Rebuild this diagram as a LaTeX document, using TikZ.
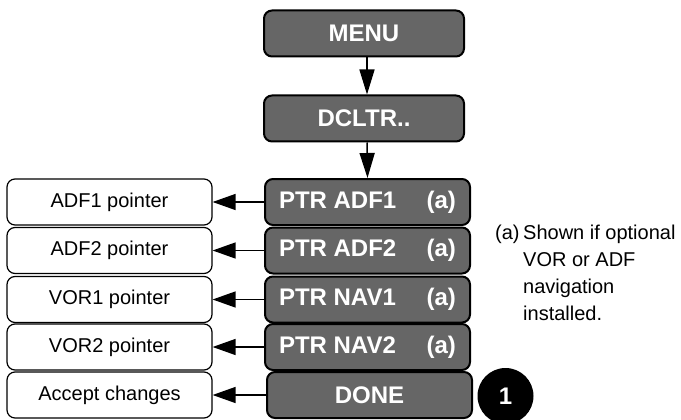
\documentclass[tikz,border=0pt]{standalone}
\usepackage{fontspec}
\setmainfont{Liberation Sans}
\usetikzlibrary{arrows.meta}
\definecolor{boxgray}{RGB}{102,102,102}
\tikzset{
  darkbox/.style={draw=black, line width=2pt, fill=boxgray, rounded corners=8pt,
    minimum height=46pt, inner sep=0pt, text=white,
    font=\fontsize{24}{28}\selectfont\bfseries},
  lightbox/.style={draw=black, line width=1.2pt, fill=white, rounded corners=8pt,
    minimum width=205pt, minimum height=46pt, inner sep=0pt,
    font=\fontsize{20}{24}\selectfont},
  harrow/.style={line width=1.3pt, -{Triangle[length=23pt,width=16pt]}},
  varrow/.style={line width=1.5pt, -{Triangle[length=25pt,width=15pt]}},
  notetext/.style={anchor=base west, inner sep=0pt, font=\fontsize{20}{27}\selectfont}
}
\begin{document}
\begin{tikzpicture}[x=1pt,y=-1pt]
\useasboundingbox (0,0) rectangle (681,420);
% central column
\node[darkbox, minimum width=200pt] (menu) at (364,33.5) {MENU};
\node[darkbox, minimum width=200pt] (dcltr) at (364,118.5) {DCLTR..};
\node[darkbox, minimum width=205pt] (adf1) at (367.5,202) {\makebox[177pt]{PTR ADF1\hfill(a)}};
\node[darkbox, minimum width=205pt] (adf2) at (367.5,250.5) {\makebox[177pt]{PTR ADF2\hfill(a)}};
\node[darkbox, minimum width=205pt] (nav1) at (367.5,299.5) {\makebox[177pt]{PTR NAV1\hfill(a)}};
\node[darkbox, minimum width=205pt] (nav2) at (367.5,347) {\makebox[177pt]{PTR NAV2\hfill(a)}};
\node[darkbox, minimum width=205pt] (done) at (369.5,395) {DONE};
% left column
\node[lightbox] (ladf1) at (109.5,202) {ADF1 pointer};
\node[lightbox] (ladf2) at (109.5,250.5) {ADF2 pointer};
\node[lightbox] (lvor1) at (109.5,299.5) {VOR1 pointer};
\node[lightbox] (lvor2) at (109.5,347) {VOR2 pointer};
\node[lightbox] (lacc) at (109.5,395) {Accept changes};
% vertical arrows
\draw[varrow] ([xshift=3pt]menu.south) -- ([xshift=3pt]dcltr.north);
\draw[varrow] ([xshift=3pt]dcltr.south) -- (adf1.north);
% horizontal arrows
\draw[harrow] (adf1.west) -- (ladf1.east);
\draw[harrow] (adf2.west) -- (ladf2.east);
\draw[harrow] (nav1.west) -- (lvor1.east);
\draw[harrow] (nav2.west) -- (lvor2.east);
\draw[harrow] (done.west) -- (lacc.east);
% note
\node[notetext] (notea) at (495,239.5) {(a)};
\node[notetext] (note1) at (523,239.5) {Shown if optional};
\node[notetext] (note2) at (523,266.5) {VOR or ADF};
\node[notetext] (note3) at (523,293.5) {navigation};
\node[notetext] (note4) at (523,320.5) {installed.};
% step marker
\node[circle, fill=black, minimum size=56pt, inner sep=0pt, text=white,
  font=\fontsize{24}{28}\selectfont\bfseries] (step1) at (505.5,396) {1};
\end{tikzpicture}
\end{document}
